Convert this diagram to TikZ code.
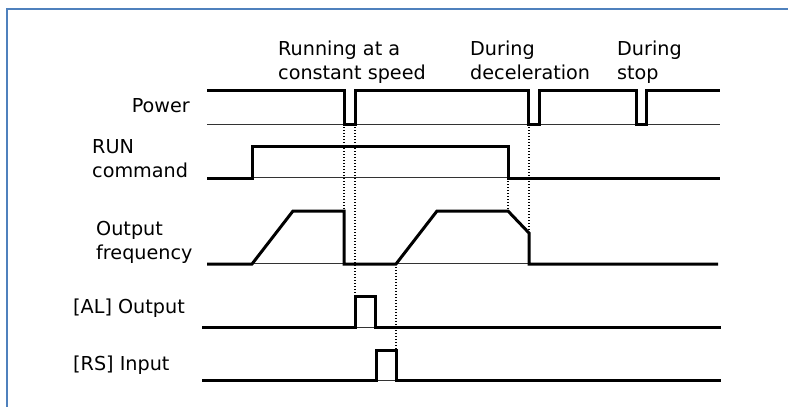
\documentclass[tikz,border=0pt]{standalone}
\usepackage{fontspec}
\setmainfont{DejaVu Sans}
\usepackage{tikz}
\usetikzlibrary{positioning}
\definecolor{frameBlue}{HTML}{4F81BD}

\begin{document}
\begin{tikzpicture}[
    x=1pt, y=-1pt,
    sig/.style={line width=3pt, line join=miter},
    zero/.style={line width=0.8pt, draw=black!80},
    guide/.style={line width=1.2pt, dash pattern=on 1.2pt off 1.8pt},
    lbl/.style={font=\fontsize{19.2}{24}\selectfont, inner sep=0pt, align=left}
  ]
    \useasboundingbox (0,0) rectangle (788,407);
    \draw[frameBlue, line width=2pt] (7,407) -- (7,9) -- (788,9);

    \node[lbl, anchor=base west] (constspd) at (278,79) {Running at a\\constant speed};
    \node[lbl, anchor=base west] (decel)    at (470,79) {During\\deceleration};
    \node[lbl, anchor=base west] (stop)     at (617,79) {During\\stop};

    \node[lbl, anchor=base east] (power) at (190,112) {Power};
    \node[lbl, anchor=base west] (run)   at (92,177)  {RUN\\command};
    \node[lbl, anchor=base west] (freq)  at (96,259)  {Output\\frequency};
    \node[lbl, anchor=base west] (alout) at (73,313)  {[AL] Output};
    \node[lbl, anchor=base west] (rsin)  at (73,370)  {[RS] Input};

    \coordinate (pwrA) at (344,124);
    \coordinate (pwrB) at (355,124);
    \coordinate (pwrC) at (529,124);
    \coordinate (runOff) at (508,178);
    \coordinate (frqDrop) at (344,211);
    \coordinate (frqLow)  at (396,264);
    \coordinate (frqDec)  at (508,211);
    \coordinate (frqCut)  at (529,233);
    \coordinate (alRise)  at (355,296);
    \coordinate (rsFall)  at (396,350);

    \draw[zero] (207,124) -- (720,124);
    \draw[zero] (252,177) -- (508,177);
    \draw[zero] (252,263) -- (529,263);
    \draw[zero] (355,327) -- (375,327);
    \draw[zero] (376,380) -- (396,380);

    \draw[sig] (207,90) -- (344,90) -- (344,124) -- (355,124) -- (355,90)
      -- (528,90) -- (528,124) -- (539,124) -- (539,90)
      -- (636,90) -- (636,124) -- (646,124) -- (646,90) -- (720,90);
    \draw[sig] (207,178) -- (252,178) -- (252,146) -- (508,146) -- (508,178) -- (720,178);
    \draw[sig] (207,264) -- (252,264) -- (293,211) -- (344,211) -- (344,264)
      -- (396,264) -- (437,211) -- (508,211) -- (529,233) -- (529,264) -- (718,264);
    \draw[sig] (202,327) -- (355,327) -- (355,296) -- (375,296) -- (375,327) -- (721,327);
    \draw[sig] (202,380) -- (376,380) -- (376,350) -- (396,350) -- (396,380) -- (721,380);

    \draw[guide] (pwrA) -- (frqDrop);
    \draw[guide] (pwrB) -- (alRise);
    \draw[guide] (pwrC) -- (frqCut);
    \draw[guide] (runOff) -- (frqDec);
    \draw[guide] (frqLow) -- (rsFall);
  \end{tikzpicture}
\end{document}
